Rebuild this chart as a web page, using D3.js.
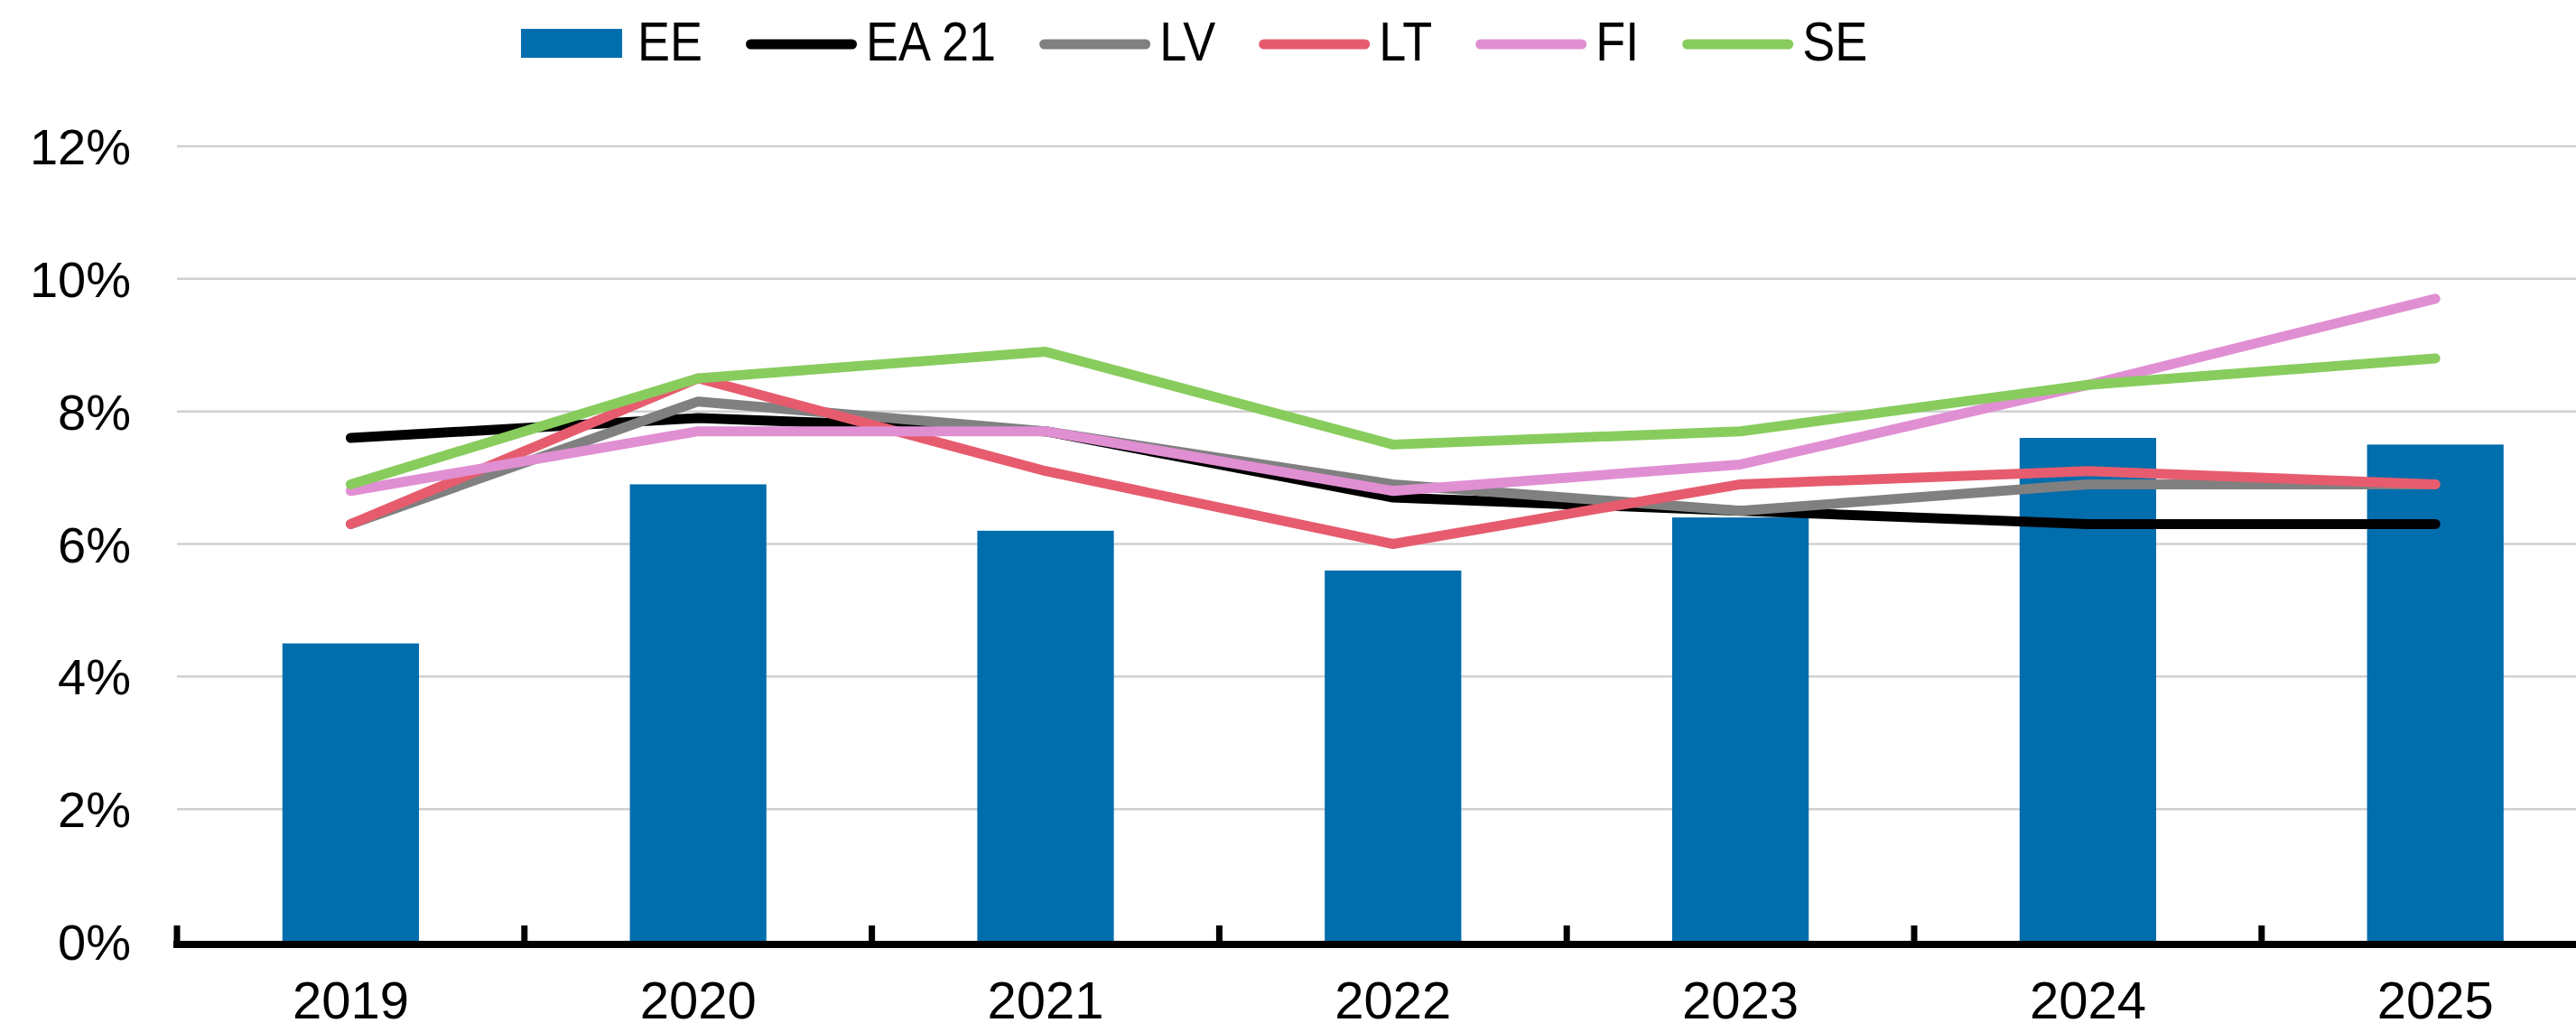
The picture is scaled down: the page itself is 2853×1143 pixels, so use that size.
<html>
<script src="https://d3js.org/d3.v7.min.js"></script>
<style>
    body { margin: 0; background: #fff; }
    text { font-family: "Liberation Sans", Arial, sans-serif; fill: #000; }
</style>
<body>
<svg id="chart"></svg>
<script>
    // data
    var years = ["2019", "2020", "2021", "2022", "2023", "2024", "2025"];
    var ee   = [4.5, 6.9, 6.2, 5.6, 6.4, 7.6, 7.5];
    var ea21 = [7.6, 7.9, 7.7, 6.7, 6.5, 6.3, 6.3];
    var lv   = [6.3, 8.15, 7.7, 6.9, 6.5, 6.9, 6.9];
    var lt   = [6.3, 8.5, 7.1, 6.0, 6.9, 7.1, 6.9];
    var fi   = [6.8, 7.7, 7.7, 6.8, 7.2, 8.4, 9.7];
    var se   = [6.9, 8.5, 8.9, 7.5, 7.7, 8.4, 8.8];
    var yTicks = [0, 2, 4, 6, 8, 10, 12];

    var lineSeries = [
        { name: "EA 21", values: ea21, color: "#000000" },
        { name: "LV", values: lv, color: "#808080" },
        { name: "LT", values: lt, color: "#e65c6e" },
        { name: "FI", values: fi, color: "#e08fd3" },
        { name: "SE", values: se, color: "#88cc5e" }
    ];
    var barColor = "#006dad";

    var W = 2853, H = 1143;
    var svg = d3.select("#chart").attr("width", W).attr("height", H);

    var plotLeft = 196, band = 384.8;
    var x = d3.scaleBand()
        .domain(years)
        .range([plotLeft, plotLeft + band * years.length])
        .paddingInner(0.607)
        .paddingOuter(0.3035);
    var y = d3.scaleLinear().domain([0, 12]).range([1043, 162]);

    // gridlines
    svg.append("g")
        .selectAll("line")
        .data(yTicks.filter(d => d > 0))
        .enter().append("line")
        .attr("x1", plotLeft).attr("x2", W)
        .attr("y1", d => y(d)).attr("y2", d => y(d))
        .attr("stroke", "#d0d0d0").attr("stroke-width", 2.5);

    // y labels
    svg.append("g")
        .selectAll("text")
        .data(yTicks)
        .enter().append("text")
        .attr("x", 145)
        .attr("y", d => y(d))
        .attr("dy", "0.36em")
        .attr("text-anchor", "end")
        .style("font-size", "56px")
        .text(d => d + "%");

    // bars
    svg.append("g")
        .selectAll("rect")
        .data(ee)
        .enter().append("rect")
        .attr("x", (d, i) => x(years[i]))
        .attr("width", x.bandwidth())
        .attr("y", d => y(d))
        .attr("height", d => y(0) - y(d))
        .attr("fill", barColor);

    // x axis
    var axis = svg.append("g");
    axis.append("line")
        .attr("x1", plotLeft - 4).attr("x2", W)
        .attr("y1", 1046).attr("y2", 1046)
        .attr("stroke", "#000").attr("stroke-width", 8);
    axis.selectAll(".tick")
        .data(d3.range(years.length + 1))
        .enter().append("line")
        .attr("x1", i => plotLeft + i * band).attr("x2", i => plotLeft + i * band)
        .attr("y1", 1025).attr("y2", 1046)
        .attr("stroke", "#000").attr("stroke-width", 7);
    axis.selectAll("text")
        .data(years)
        .enter().append("text")
        .attr("x", d => x(d) + x.bandwidth() / 2)
        .attr("y", 1128)
        .attr("text-anchor", "middle")
        .style("font-size", "58px")
        .text(d => d);

    // lines
    var line = d3.line()
        .x((d, i) => x(years[i]) + x.bandwidth() / 2)
        .y(d => y(d));
    svg.append("g")
        .selectAll("path")
        .data(lineSeries)
        .enter().append("path")
        .attr("d", d => line(d.values))
        .attr("fill", "none")
        .attr("stroke", d => d.color)
        .attr("stroke-width", 11)
        .attr("stroke-linejoin", "round")
        .attr("stroke-linecap", "round");

    // legend
    var legend = svg.append("g");
    var lx = 577, ly = 49;
    var items = [{ name: "EE", color: barColor, bar: true }].concat(lineSeries);
    items.forEach(function (it) {
        var tx;
        if (it.bar) {
            legend.append("rect")
                .attr("x", lx).attr("y", 32)
                .attr("width", 112).attr("height", 32)
                .attr("fill", it.color);
            tx = lx + 112 + 17;
        } else {
            legend.append("line")
                .attr("x1", lx + 5.5).attr("x2", lx + 123 - 5.5)
                .attr("y1", ly).attr("y2", ly)
                .attr("stroke", it.color).attr("stroke-width", 11)
                .attr("stroke-linecap", "round");
            tx = lx + 123 + 10;
        }
        var t = legend.append("text")
            .attr("transform", "translate(" + tx + ",67) scale(1,1.12)")
            .style("font-size", "54px")
            .text(it.name);
        lx = tx + t.node().getComputedTextLength() + 48;
    });
</script>
</body>
</html>
